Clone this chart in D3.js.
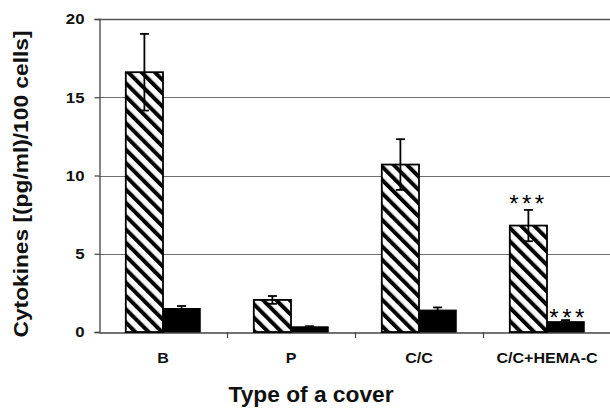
<!DOCTYPE html>
<html><head><meta charset="utf-8">
<script src="https://cdn.jsdelivr.net/npm/d3@7"></script>
<style>body{margin:0;background:#fff}svg{display:block}text{font-family:"Liberation Sans",Arial,sans-serif}</style>
</head><body>
<script>
const categories = ["B", "P", "C/C", "C/C+HEMA-C"];
const hatchedValues = [16.6, 2.05, 10.7, 6.8];
const hatchedErrors = [2.45, 0.25, 1.62, 1.0];
const solidValues = [1.5, 0.33, 1.4, 0.66];
const solidErrors = [0.16, 0.04, 0.17, 0.1];
const hatchedMarks = ["", "", "", "***"];
const solidMarks = ["", "", "", "***"];
const yTicks = [0, 5, 10, 15, 20];

const W = 610, H = 408;
const m = {left: 99, right: 0, top: 19, bottom: 76};
const svg = d3.select("body").append("svg").attr("width", W).attr("height", H);
const defs = svg.append("defs");
const P = 9.4;
const pat = defs.append("pattern").attr("id", "hatch").attr("patternUnits", "userSpaceOnUse")
  .attr("width", P).attr("height", P).attr("patternTransform", "rotate(-45)");
pat.append("rect").attr("width", P).attr("height", P).attr("fill", "#fff");
pat.append("rect").attr("x", 0).attr("y", 0).attr("width", 4).attr("height", P).attr("fill", "#000");

const x = d3.scaleBand().domain(categories).range([m.left, W - m.right + 1]);
const y = d3.scaleLinear().domain([0, 20]).range([H - m.bottom, m.top]);
const inner = d3.scaleBand().domain(["h", "s"]).range([0, x.bandwidth()]).paddingInner(0).paddingOuter(0.72);

function stretch(sel, k) {
  sel.each(function() {
    const len = this.getComputedTextLength();
    d3.select(this).attr("textLength", len * k).attr("lengthAdjust", "spacingAndGlyphs");
  });
}

// gridlines
svg.append("g").selectAll("line").data(yTicks.filter(d => d > 0)).join("line")
  .attr("x1", m.left).attr("x2", W).attr("y1", d => Math.round(y(d)) + 0.5).attr("y2", d => Math.round(y(d)) + 0.5)
  .attr("stroke", d => d === 20 ? "#555" : "#6e6e6e").attr("stroke-width", d => d === 20 ? 1.3 : 1.2);

// y axis
const yAxis = svg.append("g").attr("transform", `translate(${m.left + 0.5},0)`)
  .call(d3.axisLeft(y).tickValues(yTicks).tickSize(5).tickPadding(10));
yAxis.select(".domain").attr("stroke", "#444").attr("stroke-width", 1.3);
yAxis.selectAll(".tick line").attr("stroke", "#444").attr("stroke-width", 1.2);
yAxis.selectAll("text").attr("font-size", 15).attr("font-weight", "bold").attr("fill", "#111")
  .attr("font-family", "Liberation Sans, Arial, sans-serif").call(stretch, 1.12);

// x axis
const xAxis = svg.append("g").attr("transform", `translate(0,${Math.round(y(0)) + 0.5})`)
  .call(d3.axisBottom(x).tickSize(0).tickPadding(20));
xAxis.select(".domain").attr("stroke", "#444").attr("stroke-width", 1.5);
xAxis.selectAll("text").attr("font-size", 15).attr("font-weight", "bold").attr("fill", "#111")
  .attr("font-family", "Liberation Sans, Arial, sans-serif").call(stretch, 1.07);
const bounds = categories.map(c => x(c)).concat([x(categories[categories.length - 1]) + x.bandwidth()]);
svg.append("g").selectAll("line").data(bounds.slice(1, 4)).join("line")
  .attr("x1", d => Math.round(d) + 0.5).attr("x2", d => Math.round(d) + 0.5)
  .attr("y1", y(0)).attr("y2", y(0) + 6).attr("stroke", "#444").attr("stroke-width", 1.2);

// bars
const g = svg.append("g");
categories.forEach((c, i) => {
  const bx = x(c);
  const hx = bx + inner("h"), sx = bx + inner("s"), bw = inner.bandwidth();
  g.append("rect").attr("x", hx).attr("y", y(hatchedValues[i])).attr("width", bw)
    .attr("height", y(0) - y(hatchedValues[i])).attr("fill", "url(#hatch)")
    .attr("stroke", "#000").attr("stroke-width", 1.8);
  g.append("rect").attr("x", sx).attr("y", y(solidValues[i])).attr("width", bw)
    .attr("height", y(0) - y(solidValues[i])).attr("fill", "#000")
    .attr("stroke", "#000").attr("stroke-width", 1);
  [[hx, hatchedValues[i], hatchedErrors[i]], [sx, solidValues[i], solidErrors[i]]].forEach(([ex, v, e]) => {
    const cx = ex + bw / 2;
    g.append("line").attr("x1", cx).attr("x2", cx).attr("y1", y(v + e)).attr("y2", y(v - e))
      .attr("stroke", "#000").attr("stroke-width", 1.8);
    [v + e, v - e].forEach(t => g.append("line").attr("x1", cx - 4.5).attr("x2", cx + 4.5)
      .attr("y1", y(t)).attr("y2", y(t)).attr("stroke", "#000").attr("stroke-width", 1.8));
  });
  if (hatchedMarks[i]) g.append("text").attr("x", hx + bw / 2).attr("y", y(hatchedValues[i] + hatchedErrors[i]) + 2)
    .attr("text-anchor", "middle").attr("font-size", 24).attr("letter-spacing", 3.5).text(hatchedMarks[i]);
  if (solidMarks[i]) g.append("text").attr("x", sx + bw / 2 + 3).attr("y", y(solidValues[i] + solidErrors[i]) + 6)
    .attr("text-anchor", "middle").attr("font-size", 24).attr("letter-spacing", 3.5).text(solidMarks[i]);
});

// titles
svg.append("text").attr("transform", `translate(28,184) rotate(-90)`).attr("text-anchor", "middle")
  .attr("font-size", 20).attr("font-weight", "bold").attr("fill", "#111")
  .attr("textLength", 307).attr("lengthAdjust", "spacingAndGlyphs").text("Cytokines [(pg/ml)/100 cells]");
svg.append("text").attr("x", 311).attr("y", 402).attr("text-anchor", "middle")
  .attr("font-size", 22).attr("font-weight", "bold").attr("fill", "#111")
  .attr("textLength", 165).attr("lengthAdjust", "spacingAndGlyphs").text("Type of a cover");
</script>
</body></html>
